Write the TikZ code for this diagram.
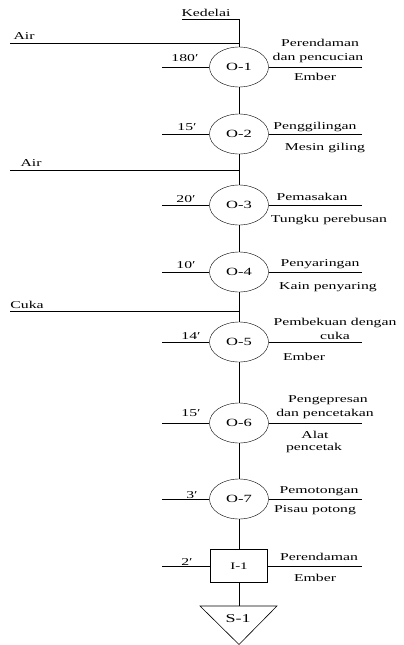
\documentclass[tikz,border=0pt]{standalone}
\usepackage{fontspec}
\setmainfont{Liberation Serif}[FakeStretch=1.5]
\usetikzlibrary{shapes.geometric}

\begin{document}
\begin{tikzpicture}[x=1pt,y=-1pt,
  op/.style={draw,ellipse,minimum width=59pt,minimum height=40pt,inner sep=0pt,font=\fontsize{11}{13}\selectfont},
  insp/.style={draw,rectangle,minimum width=57pt,minimum height=33pt,inner sep=0pt,font=\fontsize{10}{12}\selectfont},
  txt/.style={inner sep=0pt,font=\fontsize{10.5}{12}\selectfont},
  ln/.style={line width=0.6pt}]
  \useasboundingbox (0,0) rectangle (404,645);
  % Operations
  \node[op] (o1) at (239,67) {O-1};
  \node[op] (o2) at (239,134) {O-2};
  \node[op] (o3) at (239,205) {O-3};
  \node[op] (o4) at (239,272) {O-4};
  \node[op] (o5) at (239,342) {O-5};
  \node[op] (o6) at (239,423) {O-6};
  \node[op] (o7) at (239,499) {O-7};
  \node[insp] (i1) at (239,566) {I-1};
  % Storage
  \coordinate (s1top) at (239,606);
  \draw[ln] (200,606) -- (277,606) -- (239,644.5) -- cycle;
  \node[txt,font=\fontsize{12}{14}\selectfont] (s1) at (238,619) {S-1};
  % Main line
  \coordinate (kd) at (239,19);
  \coordinate (kdl) at (182,19);
  \draw[ln] (kdl) -- (kd) -- (o1.north);
  \draw[ln] (o1.south) -- (o2.north);
  \draw[ln] (o2.south) -- (o3.north);
  \draw[ln] (o3.south) -- (o4.north);
  \draw[ln] (o4.south) -- (o5.north);
  \draw[ln] (o5.south) -- (o6.north);
  \draw[ln] (o6.south) -- (o7.north);
  \draw[ln] (o7.south) -- (i1.north);
  \draw[ln] (i1.south) -- (s1top);
  % Side lines
  \foreach \n in {o1,o2,o3,o4,o5,o6,o7,i1} {
    \coordinate (\n l) at (162,0 |- \n);
    \coordinate (\n r) at (362,0 |- \n);
    \draw[ln] (\n l) -- (\n.west);
    \draw[ln] (\n.east) -- (\n r);
  }
  % Inputs
  \coordinate (air1) at (10,43);
  \coordinate (air2) at (10,170);
  \coordinate (cuka) at (10,311);
  \draw[ln] (air1) -- (air1 -| kd);
  \draw[ln] (air2) -- (air2 -| kd);
  \draw[ln] (cuka) -- (cuka -| kd);
  \node[txt] (kedelai) at (206,13) {Kedelai};
  \node[txt] (tair1) at (24,36) {Air};
  \node[txt] (tair2) at (31,163) {Air};
  \node[txt] (tcuka) at (27,305) {Cuka};
  % Times
  \node[txt] (w1) at (185,58) {180′};
  \node[txt] (w2) at (187,127) {15′};
  \node[txt] (w3) at (186,199) {20′};
  \node[txt] (w4) at (186,265) {10′};
  \node[txt] (w5) at (191,336) {14′};
  \node[txt] (w6) at (191,413) {15′};
  \node[txt] (w7) at (192,495) {3′};
  \node[txt] (w8) at (187,562) {2′};
  % Activities and tools
  \node[txt] (a1) at (320,43) {Perendaman};
  \node[txt] (a1b) at (318,58) {dan pencucian};
  \node[txt] (e1) at (315,77) {Ember};
  \node[txt] (a2) at (315,127) {Penggilingan};
  \node[txt] (e2) at (325,148) {Mesin giling};
  \node[txt] (a3) at (312,197) {Pemasakan};
  \node[txt] (e3) at (329,220) {Tungku perebusan};
  \node[txt] (a4) at (320,264) {Penyaringan};
  \node[txt] (e4) at (328,287) {Kain penyaring};
  \node[txt] (a5) at (335,323) {Pembekuan dengan};
  \node[txt] (a5b) at (335,336) {cuka};
  \node[txt] (e5) at (304,357) {Ember};
  \node[txt] (a6) at (328,400) {Pengepresan};
  \node[txt] (a6b) at (325,414) {dan pencetakan};
  \node[txt] (e6) at (315,435) {Alat};
  \node[txt] (e6b) at (314,448) {pencetak};
  \node[txt] (a7) at (319,491) {Pemotongan};
  \node[txt] (e7) at (315,510) {Pisau potong};
  \node[txt] (a8) at (319,557) {Perendaman};
  \node[txt] (e8) at (315,578) {Ember};
\end{tikzpicture}
\end{document}
